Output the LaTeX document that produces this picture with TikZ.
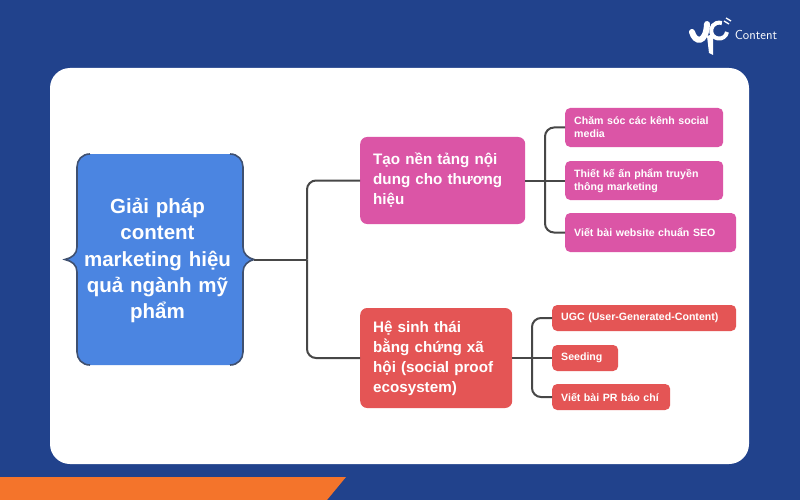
\documentclass[tikz,border=0pt]{standalone}
\usepackage{fontspec}
\setmainfont{Liberation Sans}
\definecolor{navybg}{HTML}{21428C}
\definecolor{orangebar}{HTML}{F4742B}
\definecolor{rootblue}{HTML}{4B85E1}
\definecolor{pinkbox}{HTML}{DB55A6}
\definecolor{redbox}{HTML}{E45555}
\definecolor{linegray}{HTML}{474747}
\definecolor{bracegray}{HTML}{3F5070}
\tikzset{
  rootbox/.style={text=white,align=center,font=\fontsize{20.5}{26.2}\selectfont\bfseries,text width=160pt,inner sep=0pt},
  catbox/.style={rounded corners=7pt,text=white,align=left,font=\fontsize{15.2}{20}\selectfont\bfseries,inner xsep=13pt,inner ysep=0pt,anchor=west},
  leafbox/.style={rounded corners=5pt,text=white,align=left,font=\fontsize{10.6}{13}\selectfont\bfseries,inner xsep=9pt,inner ysep=0pt,anchor=west},
  link/.style={draw=linegray,line width=2pt,rounded corners=9pt},
  bracepath/.style={draw=bracegray,fill=rootblue,line width=1.6pt},
}
\begin{document}
\begin{tikzpicture}[x=1pt,y=-1pt]
\useasboundingbox (0,0) rectangle (800,500);
\fill[navybg] (0,0) rectangle (800,500);
\fill[orangebar] (0,477) -- (346,477) -- (327,500) -- (0,500) -- cycle;
\fill[white,rounded corners=20pt] (50,68) rectangle (749,464);

% logo
\draw[white,line width=6pt,line cap=round] (692,32) .. controls (695,43) and (706,44) .. (707,24);
\fill[white] (707,36) -- (713,34) -- (713,55) -- (709,53) -- cycle;
\draw[white,line width=4pt] (727,32) arc (10:290:8);
\draw[white,line width=1.3pt] (724,21) -- (729,24);
\draw[white,line width=1.3pt] (726,18) -- (731,21);
\node[text=white,font=\fontsize{13}{15}\selectfont\sffamily] (brand) at (756,35) {Content};

% root body and its braces
\coordinate (bracel) at (65,259.5);
\coordinate (bracer) at (254,259.5);
\fill[rootblue,rounded corners=12pt] (77,154) rectangle (243,365);
\path[bracepath] (90,154) .. controls (82,154) and (77,160) .. (77,167) -- (77,247) .. controls (77,254) and (72,258) .. (bracel) .. controls (72,261) and (77,265) .. (77,272) -- (77,352) .. controls (77,359) and (82,365) .. (90,365);
\path[bracepath] (230,154) .. controls (238,154) and (243,160) .. (243,167) -- (243,247) .. controls (243,254) and (248,258) .. (bracer) .. controls (248,261) and (243,265) .. (243,272) -- (243,352) .. controls (243,359) and (238,365) .. (230,365);

% nodes
\node[rootbox] (root) at (157.5,260.5) {Giải pháp\\content\\marketing hiệu\\quả ngành mỹ\\phẩm};

\node[catbox,fill=pinkbox,minimum width=165pt,minimum height=87pt,text width=139pt] (brandbase) at (360,180.5) {Tạo nền tảng nội\\dung cho thương\\hiệu};
\node[catbox,fill=redbox,minimum width=152pt,minimum height=100pt,text width=126pt] (proof) at (360,358) {Hệ sinh thái\\bằng chứng xã\\hội (social proof\\ecosystem)};

\node[leafbox,fill=pinkbox,minimum width=158pt,minimum height=39pt,text width=140pt] (channels) at (565,127.5) {Chăm sóc các kênh social\\media};
\node[leafbox,fill=pinkbox,minimum width=158pt,minimum height=39pt,text width=140pt] (design) at (565,180.5) {Thiết kế ấn phẩm truyền\\thông marketing};
\node[leafbox,fill=pinkbox,minimum width=171pt,minimum height=39pt,text width=153pt] (seo) at (565,232.5) {Viết bài website chuẩn SEO};

\node[leafbox,fill=redbox,minimum width=184pt,minimum height=26pt,text width=166pt] (ugc) at (552,318) {UGC (User-Generated-Content)};
\node[leafbox,fill=redbox,minimum width=66pt,minimum height=26pt,text width=48pt] (seeding) at (552,358) {Seeding};
\node[leafbox,fill=redbox,minimum width=118pt,minimum height=26pt,text width=100pt] (prnews) at (552,397) {Viết bài PR báo chí};

\coordinate (rootjoin) at (307,259.5);
\coordinate (brandjoin) at (545,180.5);
\coordinate (proofjoin) at (532,358);

% connectors
\path[link] (bracer) -- (rootjoin);
\path[link] (rootjoin) |- (brandbase.west);
\path[link] (rootjoin) |- (proof.west);
\path[link] (brandbase.east) -- (design.west);
\path[link] (brandjoin) |- (channels.west);
\path[link] (brandjoin) |- (seo.west);
\path[link] (proof.east) -- (seeding.west);
\path[link] (proofjoin) |- (ugc.west);
\path[link] (proofjoin) |- (prnews.west);
\end{tikzpicture}
\end{document}
